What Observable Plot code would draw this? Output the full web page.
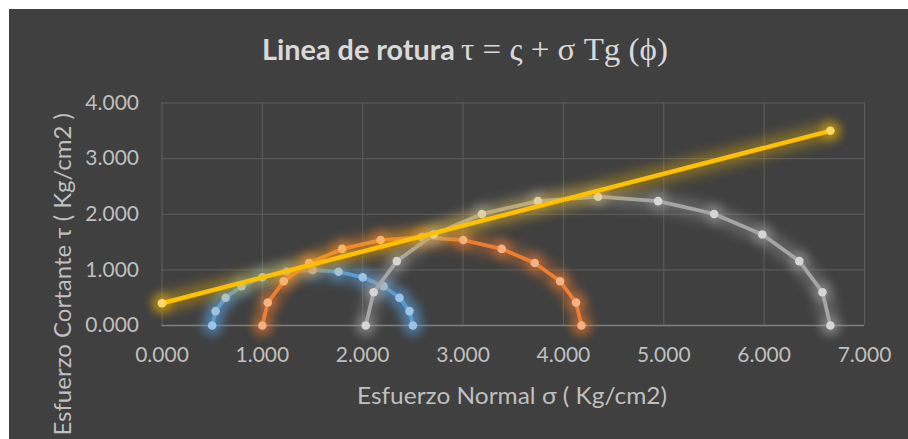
<!DOCTYPE html>
<html><head><meta charset="utf-8">
<script src="https://cdn.jsdelivr.net/npm/d3@7"></script>
<script src="https://cdn.jsdelivr.net/npm/@observablehq/plot@0.6"></script>
<style>
html,body{margin:0;padding:0;background:#fff;width:908px;height:439px;overflow:hidden}
#wrap{position:relative;width:908px;height:439px}
#panel{position:absolute;left:9px;top:9px;right:0;bottom:0;background:#404040}
#chart{position:absolute;left:0;top:0}
</style></head><body>
<div id="wrap"><div id="panel"></div><div id="chart"></div></div>
<script>
// ---- data ----
const titleMain = "Linea de rotura";
const titleMath = "τ = ς + σ Tg (ϕ)";
const xTitle = "Esfuerzo Normal σ ( Kg/cm2)";
const yTitle = "Esfuerzo Cortante τ ( Kg/cm2 )";
const xTicks = [0, 1, 2, 3, 4, 5, 6, 7];
const yTicks = [0, 1, 2, 3, 4];

const circle1X = [0.500, 0.534, 0.634, 0.793, 1.000, 1.241, 1.500, 1.759, 2.000, 2.207, 2.366, 2.466, 2.500];
const circle1Y = [0.000, 0.259, 0.500, 0.707, 0.866, 0.966, 1.000, 0.966, 0.866, 0.707, 0.500, 0.259, 0.000];
const circle2X = [1.000, 1.054, 1.213, 1.466, 1.795, 2.178, 2.590, 3.002, 3.385, 3.714, 3.967, 4.126, 4.180];
const circle2Y = [0.000, 0.412, 0.795, 1.124, 1.377, 1.536, 1.590, 1.536, 1.377, 1.124, 0.795, 0.412, 0.000];
const circle3X = [2.030, 2.109, 2.340, 2.708, 3.188, 3.746, 4.345, 4.944, 5.502, 5.982, 6.350, 6.581, 6.660];
const circle3Y = [0.000, 0.599, 1.158, 1.637, 2.005, 2.236, 2.315, 2.236, 2.005, 1.637, 1.158, 0.599, 0.000];
const ruptureX = [0.000, 6.660];
const ruptureY = [0.400, 3.500];

// ---- build ----
const rows = (xs, ys) => xs.map((x, i) => ({s: x, t: ys[i]}));
const series = [
  {data: rows(circle1X, circle1Y), line: "#5b9bd5", dot: "#9dc3e6", w: 3.8},
  {data: rows(circle2X, circle2Y), line: "#ed7d31", dot: "#f4b183", w: 3.8},
  {data: rows(circle3X, circle3Y), line: "#a5a5a5", dot: "#d6d6d6", w: 3.8},
  {data: rows(ruptureX, ruptureY), line: "#ffc000", dot: "#ffd966", w: 4.5}
];

const fmt = d3.format(".3f");
const marks = [
  Plot.gridX(xTicks, {stroke: "#5e5e5e", strokeOpacity: 1, strokeWidth: 1}),
  Plot.gridY(yTicks, {stroke: "#5e5e5e", strokeOpacity: 1, strokeWidth: 1}),
  Plot.ruleY([0], {stroke: "#7f7f7f", strokeWidth: 1.3})
];
for (const sr of series) {
  marks.push(Plot.line(sr.data, {x: "s", y: "t", stroke: sr.line, strokeWidth: 18, strokeOpacity: 0.35, imageFilter: "blur(6px)"}));
  marks.push(Plot.dot(sr.data, {x: "s", y: "t", r: 10, fill: sr.line, fillOpacity: 0.4, imageFilter: "blur(4px)"}));
  marks.push(Plot.line(sr.data, {x: "s", y: "t", stroke: sr.line, strokeWidth: sr.w}));
  marks.push(Plot.dot(sr.data, {x: "s", y: "t", r: 4.3, fill: sr.dot, stroke: "none"}));
}

const plot = Plot.plot({
  width: 908, height: 439,
  marginLeft: 161.5, marginRight: 44, marginTop: 102.5, marginBottom: 114,
  style: {background: "transparent", fontFamily: "Lato, sans-serif", fontSize: "21px", color: "#bfbfbf", overflow: "visible"},
  x: {domain: [0, 7], ticks: xTicks, tickFormat: fmt, tickSize: 0, tickPadding: 22, label: null},
  y: {domain: [0, 4], ticks: yTicks, tickFormat: fmt, tickSize: 0, tickPadding: 23, label: null},
  marks
});
document.getElementById("chart").appendChild(plot);

const svg = d3.select(plot);
svg.append("text").text(titleMain)
  .attr("x", 262).attr("y", 60).attr("text-anchor", "start").attr("fill", "#d9d9d9")
  .attr("font-family", "Lato, sans-serif").attr("font-weight", "bold").attr("font-size", 29)
  .attr("textLength", 193).attr("lengthAdjust", "spacingAndGlyphs");
svg.append("text").text(titleMath)
  .attr("x", 461).attr("y", 60).attr("text-anchor", "start").attr("fill", "#d9d9d9")
  .attr("font-family", "'Liberation Serif', serif").attr("font-size", 31)
  .attr("textLength", 207).attr("lengthAdjust", "spacingAndGlyphs");
svg.append("text").text(xTitle)
  .attr("x", 512).attr("y", 404).attr("text-anchor", "middle").attr("fill", "#bfbfbf")
  .attr("font-family", "Lato, sans-serif").attr("font-size", 24)
  .attr("textLength", 310).attr("lengthAdjust", "spacingAndGlyphs");
svg.append("text").text(yTitle)
  .attr("transform", "translate(70.5,113) rotate(-90)").attr("text-anchor", "end").attr("fill", "#bfbfbf")
  .attr("font-family", "Lato, sans-serif").attr("font-size", 24);
</script>
</body></html>
